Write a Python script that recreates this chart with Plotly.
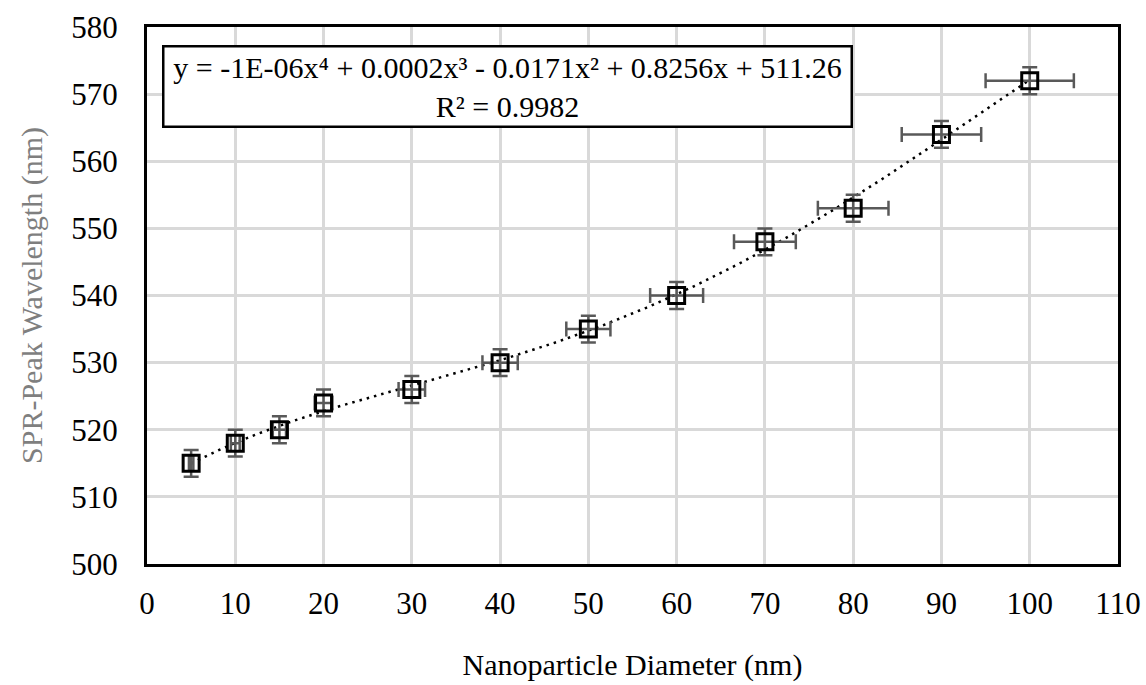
import numpy as np
import plotly.graph_objects as go

diameter = [5, 10, 15, 20, 30, 40, 50, 60, 70, 80, 90, 100]
wavelength = [515, 518, 520, 524, 526, 530, 535, 540, 548, 553, 564, 572]
y_err = [2, 2, 2, 2, 2, 2, 2, 2, 2, 2, 2, 2]
x_err_pct = 5

x_ticks = list(range(0, 111, 10))
y_ticks = list(range(500, 581, 10))

coef = np.polyfit(diameter, wavelength, 4)
xf = np.linspace(min(diameter), max(diameter), 200)
yf = np.polyval(coef, xf)

FONT = "Liberation Serif, Times New Roman, serif"

fig = go.Figure()
fig.add_trace(go.Scatter(x=xf, y=yf, mode="lines",
                         line=dict(color="black", width=2.5, dash="2.5px,5px"),
                         showlegend=False, hoverinfo="skip"))
fig.add_trace(go.Scatter(
    x=diameter, y=wavelength, mode="markers",
    marker=dict(symbol="square-open", size=16, color="black", line=dict(width=3, color="black")),
    error_y=dict(type="data", array=y_err, color="#595959", thickness=2.5, width=7.5),
    error_x=dict(type="percent", value=x_err_pct, color="#595959", thickness=2.5, width=7.5),
    showlegend=False))

fig.update_layout(
    width=1146, height=685,
    margin=dict(l=147, r=28, t=27, b=121, autoexpand=False),
    paper_bgcolor="white", plot_bgcolor="white",
    font=dict(family=FONT, size=30, color="black"),
    xaxis=dict(range=[0, 110], tickvals=x_ticks, showgrid=True, gridcolor="#d9d9d9", gridwidth=2.5,
               zeroline=False, showline=True, linecolor="black", linewidth=3, mirror=True,
               automargin=False, ticks="", tickfont=dict(family=FONT, size=31), ticklabelstandoff=10,
               ticklabeloverflow="allow",
               title=dict(text="Nanoparticle Diameter (nm)", font=dict(family=FONT, size=30, color="black"), standoff=34)),
    yaxis=dict(range=[500, 580], tickvals=y_ticks, showgrid=True, gridcolor="#d9d9d9", gridwidth=2.5,
               zeroline=False, showline=True, linecolor="black", linewidth=3, mirror=True,
               automargin=False, ticks="", tickfont=dict(family=FONT, size=31), ticklabelstandoff=20,
               ticklabeloverflow="allow",
               title=dict(text="SPR-Peak Wavelength (nm)", font=dict(family=FONT, size=30, color="#7f7f7f"), standoff=20)),
)

eq_text = "y = -1E-06x⁴ + 0.0002x³ - 0.0171x² + 0.8256x + 511.26<br>R² = 0.9982"
fig.add_annotation(x=(162 - 147) / 971, y=(564 - 45) / 537, xref="paper", yref="paper",
                   xanchor="left", yanchor="top",
                   text=eq_text, showarrow=False, align="center",
                   font=dict(family=FONT, size=30, color="black"),
                   bordercolor="black", borderwidth=2.5, bgcolor="white", borderpad=3,
                   width=680, height=72)

fig.write_html("out.html", config={"displayModeBar": False},
               post_script="document.body.style.margin='0';document.body.style.overflow='hidden';")
